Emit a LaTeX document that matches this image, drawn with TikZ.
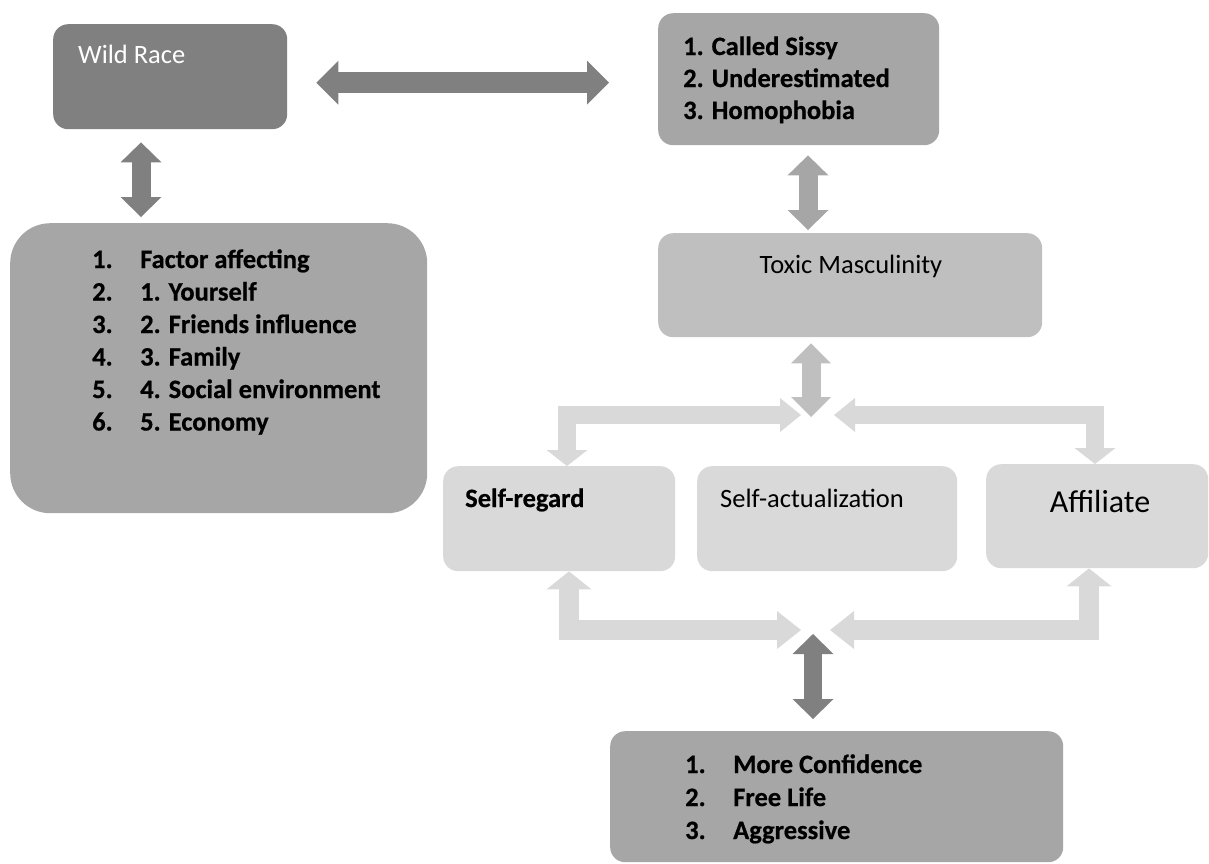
\documentclass[tikz,border=0pt]{standalone}
\usepackage{fontspec}
\setmainfont{Carlito}
\newfontfamily\heavy[FakeBold=0.6]{Carlito Bold}
\usetikzlibrary{arrows.meta}
\definecolor{gdark}{HTML}{808080}
\definecolor{gmid}{HTML}{A6A6A6}
\definecolor{gtox}{HTML}{BFBFBF}
\definecolor{glight}{HTML}{D9D9D9}
\tikzset{
  box/.style={rounded corners=15pt, draw=none, anchor=north west, inner sep=0pt},
  txt/.style={anchor=base west, inner sep=0pt, font=\fontsize{26.5}{31}\selectfont},
  btxt/.style={anchor=base west, inner sep=0pt, font=\fontsize{26.5}{31}\selectfont\heavy},
  otxt/.style={anchor=base west, inner sep=0pt, font=\fontsize{26.5}{31}\selectfont\heavy},
  blockarrow/.style={line join=miter, line cap=butt},
}
\begin{document}
\begin{tikzpicture}[x=1pt,y=-1pt]
\useasboundingbox (0,0) rectangle (1209,863);
% boxes
\node[box, fill=gdark, minimum width=234pt, minimum height=105pt] (wild) at (53,24) {};
\node[box, fill=gmid, minimum width=281pt, minimum height=132pt] (sissy) at (658,13) {};
\node[box, fill=gmid, rounded corners=40pt, minimum width=417pt, minimum height=290pt] (factor) at (10,223) {};
\node[box, fill=gtox, minimum width=384pt, minimum height=104pt] (toxic) at (658,233) {};
\node[box, fill=glight, minimum width=232pt, minimum height=105pt] (sreg) at (443,466) {};
\node[box, fill=glight, minimum width=260pt, minimum height=105pt] (sact) at (697,466) {};
\node[box, fill=glight, minimum width=222pt, minimum height=104pt] (affil) at (986,464) {};
\node[box, fill=gmid, minimum width=453pt, minimum height=131pt] (result) at (610,731) {};
% texts
\node[txt, text=white] (wildt) at (78,63) {Wild Race};
\node[otxt] (s1) at (683,55) {1. Called Sissy};
\node[otxt] (s2) at (683,87) {2. Underestimated};
\node[otxt] (s3) at (683,119) {3. Homophobia};
\node[txt, anchor=base] (toxt) at (851,273) {Toxic Masculinity};
\node[btxt] (sregt) at (465,507) {Self-regard};
\node[txt] (sactt) at (720,507) {Self-actualization};
\node[anchor=base, inner sep=0pt, font=\fontsize{32}{38}\selectfont] (affilt) at (1100,512) {Affiliate};
\node[otxt] (fn1) at (92,268) {1.};
\node[otxt] (fn2) at (92,300.5) {2.};
\node[otxt] (fn3) at (92,333) {3.};
\node[otxt] (fn4) at (92,365.5) {4.};
\node[otxt] (fn5) at (92,398) {5.};
\node[otxt] (fn6) at (92,430.5) {6.};
\node[otxt] (ft1) at (140,268) {Factor affecting};
\node[otxt] (ft2) at (140,300.5) {1. Yourself};
\node[otxt] (ft3) at (140,333) {2. Friends influence};
\node[otxt] (ft4) at (140,365.5) {3. Family};
\node[otxt] (ft5) at (140,398) {4. Social environment};
\node[otxt] (ft6) at (140,430.5) {5. Economy};
\node[btxt] (rn1) at (685,773) {1.};
\node[btxt] (rn2) at (685,806) {2.};
\node[btxt] (rn3) at (685,839) {3.};
\node[btxt] (rt1) at (733,773) {More Confidence};
\node[btxt] (rt2) at (733,806) {Free Life};
\node[btxt] (rt3) at (733,839) {Aggressive};
% connector end points
\coordinate (h1) at ([xshift=29pt,yshift=-6pt]wild.east);
\coordinate (h2) at ([xshift=-49pt,yshift=-3.5pt]sissy.west);
\coordinate (v1a) at ([xshift=88pt,yshift=-13pt]wild.south west);
\coordinate (v1b) at ([xshift=131pt,yshift=6pt]factor.north west);
\coordinate (v2a) at ([xshift=150pt,yshift=-10pt]sissy.south west);
\coordinate (v2b) at ([xshift=150pt,yshift=3pt]toxic.north west);
\coordinate (v3a) at ([xshift=153pt,yshift=-6pt]toxic.south west);
\coordinate (jt) at (811,417);
\coordinate (jtl) at (801,415);
\coordinate (jtr) at (834,415);
\coordinate (jbl) at (801,630);
\coordinate (jbr) at (830,630);
\coordinate (jb) at (813,634);
\coordinate (sregtop) at ([xshift=124pt]sreg.north west);
\coordinate (affiltop) at ([xshift=109pt]affil.north west);
\coordinate (sregbot) at ([xshift=126pt]sreg.south west);
\coordinate (affilbot) at ([xshift=103pt]affil.south west);
\coordinate (v4b) at ([xshift=203pt,yshift=12pt]result.north west);
% arrows
\draw[blockarrow, gdark, line width=21pt, {Triangle[width=44pt,length=22pt,line width=0pt]}-{Triangle[width=44pt,length=22pt,line width=0pt]}] (h1) -- (h2);
\draw[blockarrow, gdark, line width=19pt, {Triangle[width=41pt,length=20pt,line width=0pt]}-{Triangle[width=41pt,length=20pt,line width=0pt]}] (v1a) -- (v1b);
\draw[blockarrow, gmid, line width=19pt, {Triangle[width=41pt,length=20pt,line width=0pt]}-{Triangle[width=41pt,length=20pt,line width=0pt]}] (v2a) -- (v2b);
\draw[blockarrow, glight, line width=18pt, {Triangle[width=34pt,length=21pt,line width=0pt]}-{Triangle[width=41pt,length=16pt,line width=0pt]}] (jtl) -| (sregtop);
\draw[blockarrow, glight, line width=18pt, {Triangle[width=34pt,length=21pt,line width=0pt]}-{Triangle[width=41pt,length=16pt,line width=0pt]}] (jtr) -| (affiltop);
\draw[blockarrow, glight, line width=20pt, {Triangle[width=38pt,length=24pt,line width=0pt]}-{Triangle[width=45pt,length=18pt,line width=0pt]}] (jbl) -| (sregbot);
\draw[blockarrow, glight, line width=20pt, {Triangle[width=38pt,length=24pt,line width=0pt]}-{Triangle[width=45pt,length=18pt,line width=0pt]}] (jbr) -| (affilbot);
\draw[blockarrow, gtox, line width=19pt, {Triangle[width=40pt,length=20pt,line width=0pt]}-{Triangle[width=40pt,length=20pt,line width=0pt]}] (v3a) -- (jt);
\draw[blockarrow, gdark, line width=18pt, {Triangle[width=41pt,length=20pt,line width=0pt]}-{Triangle[width=41pt,length=20pt,line width=0pt]}] (jb) -- (v4b);
\end{tikzpicture}
\end{document}
